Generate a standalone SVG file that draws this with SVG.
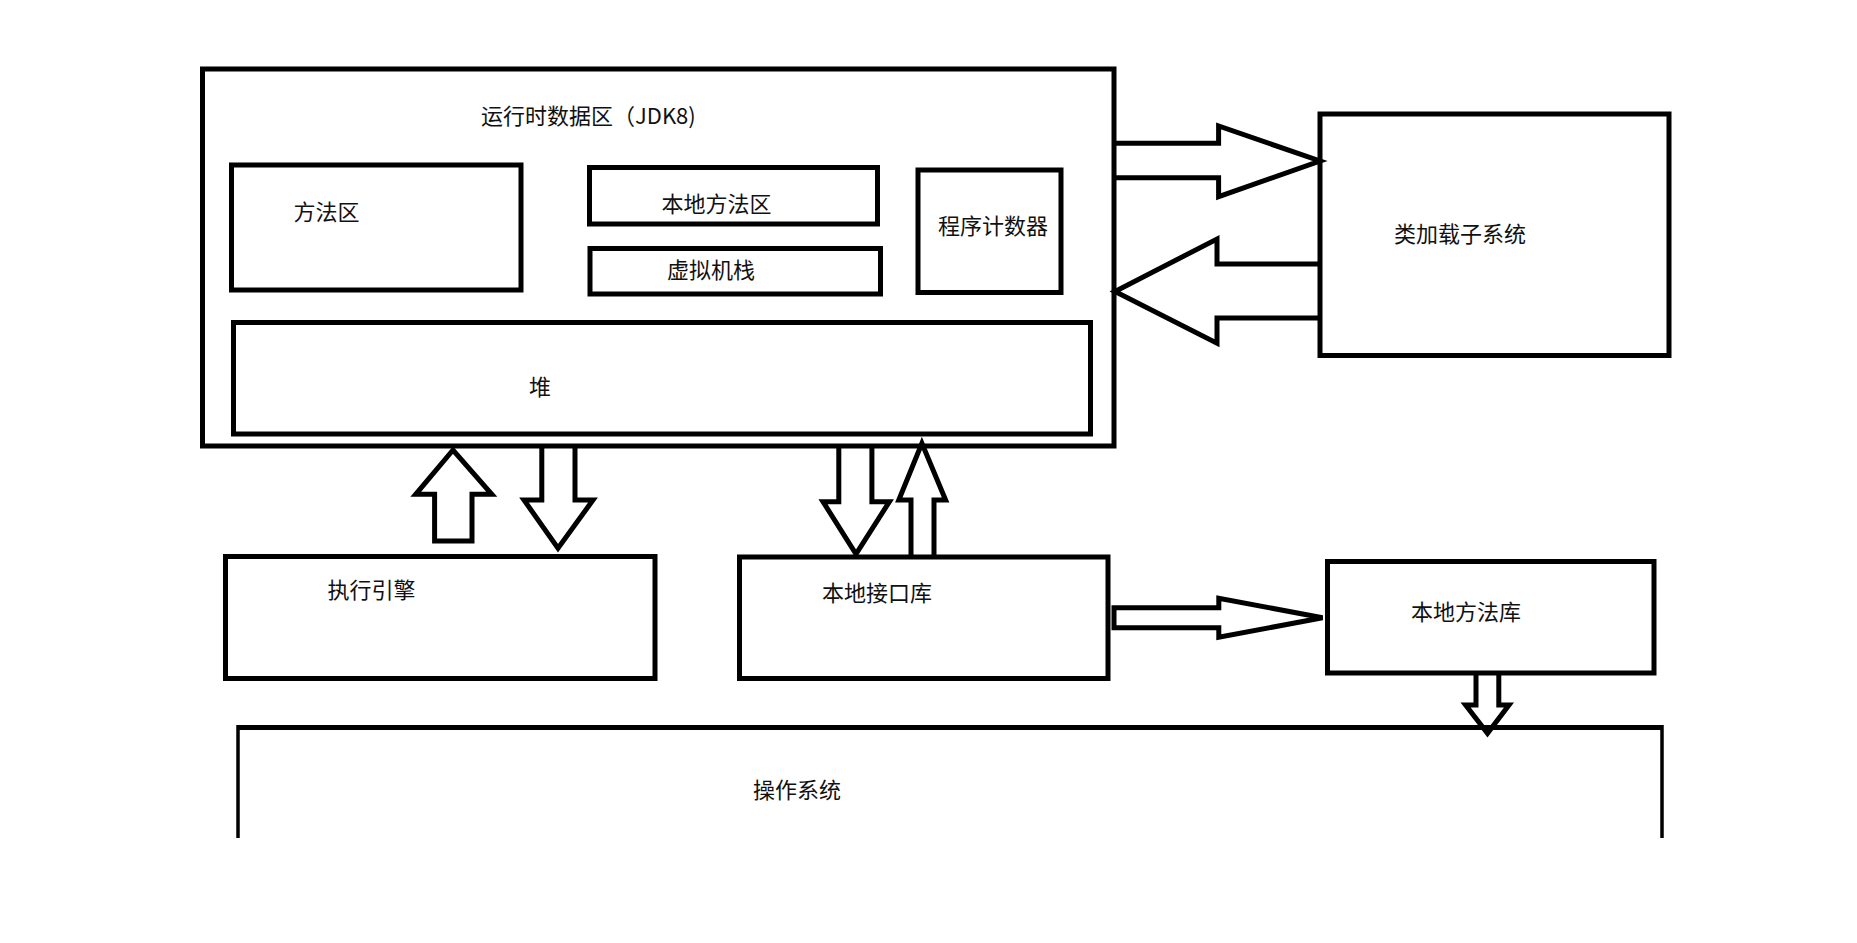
<svg xmlns="http://www.w3.org/2000/svg" width="1857" height="943" viewBox="0 0 1857 943">
<style>
.box{fill:none;stroke:#000;stroke-width:5}
.arr{fill:#fff;stroke:#000;stroke-width:5;stroke-linejoin:miter}
polyline.arr{fill:none}
.t{font-family:"Noto Sans CJK SC","Microsoft YaHei",sans-serif;font-size:22px;fill:#111}
</style>
<rect width="1857" height="943" fill="#fff"/>
<g id="runtime-data-area">
<rect class="box" x="202.5" y="69" width="911.5" height="377" stroke-width="4.5"/>
<text class="t" x="481" y="124">运行时数据区（JDK8)</text>
</g>
<g id="method-area">
<rect class="box" x="231.5" y="165" width="289.5" height="125"/>
<text class="t" x="293.5" y="219.5">方法区</text>
</g>
<g id="native-method-area">
<rect class="box" x="589.5" y="167.5" width="288" height="56.5"/>
<text class="t" x="661.5" y="212">本地方法区</text>
</g>
<g id="vm-stack">
<rect class="box" x="590" y="248.5" width="290.5" height="45.5"/>
<text class="t" x="667" y="277.5">虚拟机栈</text>
</g>
<g id="pc-register">
<rect class="box" x="918" y="170" width="143" height="122.5"/>
<text class="t" x="938" y="233.5">程序计数器</text>
</g>
<g id="heap">
<rect class="box" x="233.5" y="322.5" width="857" height="111.5"/>
<text class="t" x="529" y="395">堆</text>
</g>
<g id="class-loader">
<rect class="box" x="1320" y="114" width="349" height="241.5"/>
<text class="t" x="1394" y="241.5">类加载子系统</text>
</g>
<g id="execution-engine">
<rect class="box" x="225.5" y="556.5" width="429.5" height="122"/>
<text class="t" x="327.5" y="598">执行引擎</text>
</g>
<g id="native-interface">
<rect class="box" x="739.5" y="557" width="368.5" height="121.5"/>
<text class="t" x="822" y="601">本地接口库</text>
</g>
<g id="native-method-lib">
<rect class="box" x="1327.5" y="561.5" width="326.5" height="111.5"/>
<text class="t" x="1411" y="619.5">本地方法库</text>
</g>
<g id="operating-system">
<line x1="238" y1="727.5" x2="1662" y2="727.5" stroke="#000" stroke-width="5"/>
<path d="M238,725 V838 M1662,725 V838" fill="none" stroke="#000" stroke-width="3.5"/>
<text class="t" x="753" y="797.5">操作系统</text>
</g>
<g id="connectors">
<polyline class="arr" points="1114,143.3 1218.6,143.3 1218.6,126 1320,161 1218.6,196.7 1218.6,177.7 1114,177.7"/>
<polyline class="arr" points="1320,264 1217,264 1217,239 1115,291.5 1217,343.3 1217,318 1320,318"/>
<polygon class="arr" points="434.6,541 434.6,494.3 415.7,494.3 453,450 491.8,494.3 472,494.3 472,541"/>
<polyline class="arr" points="541.8,446 541.8,500 524,500 558,548.3 593,500 575,500 575,446"/>
<polyline class="arr" points="838.8,446 838.8,501.7 823,501.7 856,554 889.4,501.7 871.9,501.7 871.9,446"/>
<polyline class="arr" points="911,557 911,500 898.8,500 921.9,443.3 945.6,500 934,500 934,557"/>
<polygon class="arr" points="1114,607.7 1218.8,607.7 1218.8,598.3 1322.5,617.7 1218.8,637.3 1218.8,627.7 1114,627.7"/>
<polyline class="arr" points="1476,675 1476,705 1465.6,705 1487.5,733.3 1509,705 1498.8,705 1498.8,675"/>
</g>
</svg>
